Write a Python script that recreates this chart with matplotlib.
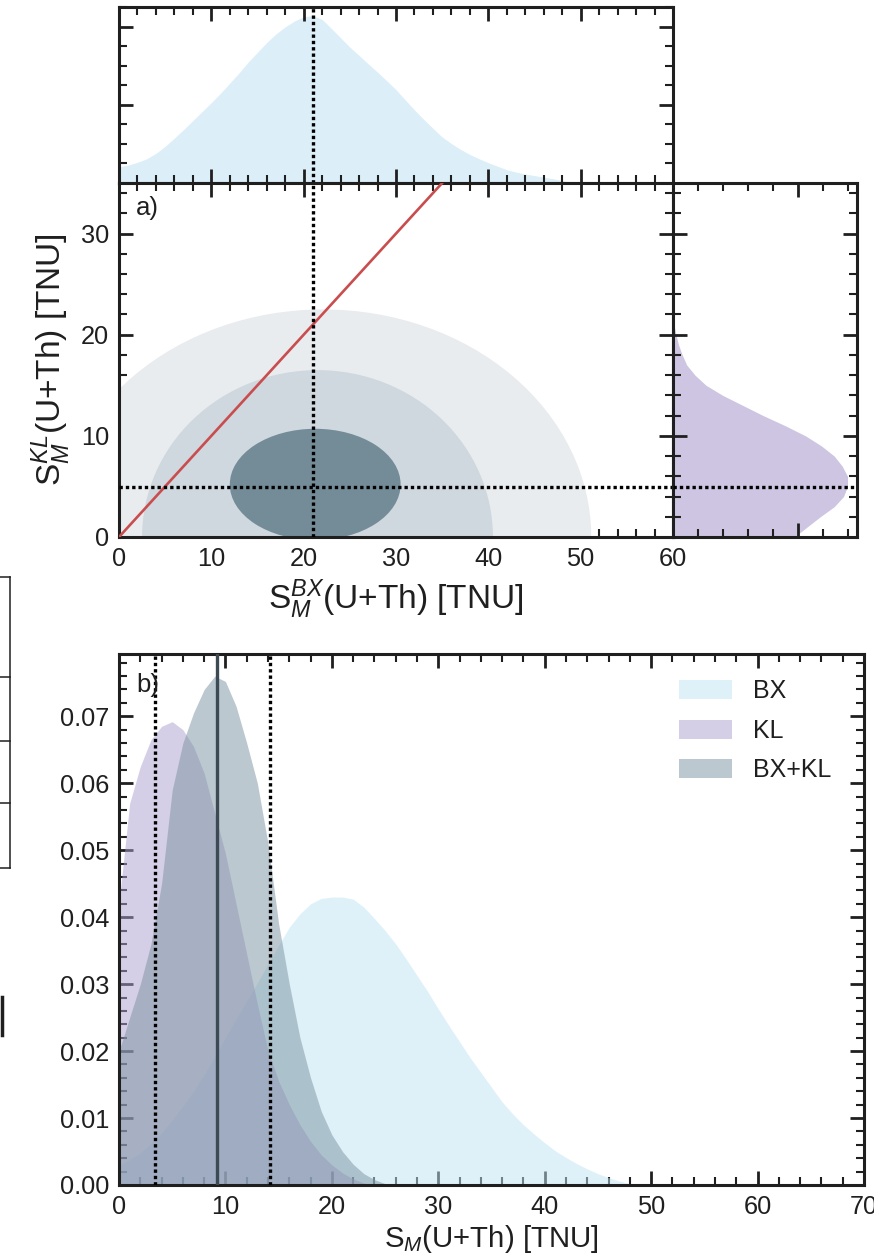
import numpy as np
import matplotlib
matplotlib.use("Agg")
import matplotlib.pyplot as plt
from matplotlib.lines import Line2D
from matplotlib.patches import Ellipse
from matplotlib.ticker import MultipleLocator, NullFormatter, FormatStrFormatter

plt.rcParams["font.family"] = ["Liberation Sans", "DejaVu Sans"]
plt.rcParams["mathtext.fontset"] = "custom"
plt.rcParams["mathtext.rm"] = "Liberation Sans"
plt.rcParams["mathtext.it"] = "Liberation Sans:italic"
plt.rcParams["mathtext.bf"] = "Liberation Sans:bold"

# ---------------------------------------------------------------- data
# Borexino posterior of S_M(U+Th) [TNU] (marginal of panel a)
bx_marg_x = np.arange(0, 51)
bx_marg_pdf = np.array([
    0.0041, 0.0046, 0.0053, 0.0062, 0.0076, 0.0094, 0.0115, 0.0137, 0.0160, 0.0183,
    0.0206, 0.0230, 0.0256, 0.0282, 0.0310, 0.0335, 0.0360, 0.0382, 0.0400, 0.0415,
    0.0426, 0.0429, 0.0419, 0.0396, 0.0372, 0.0348, 0.0327, 0.0305, 0.0284, 0.0262,
    0.0239, 0.0213, 0.0187, 0.0163, 0.0140, 0.0118, 0.0101, 0.0086, 0.0073, 0.0062,
    0.0052, 0.0043, 0.0034, 0.0028, 0.0023, 0.0019, 0.0015, 0.0011, 0.0006, 0.0002,
    0.0000])

# KamLAND posterior of S_M(U+Th) [TNU] (marginal of panel a)
kl_marg_y = np.arange(0, 23)
kl_marg_pdf = np.array([
    0.0486, 0.0537, 0.0589, 0.0645, 0.0682, 0.0698, 0.0698, 0.0677, 0.0645, 0.0594,
    0.0530, 0.0449, 0.0361, 0.0280, 0.0199, 0.0132, 0.0088, 0.0055, 0.0037, 0.0022,
    0.0012, 0.0004, 0.0000])

# joint credible regions (3, 2, 1 sigma): centre and full extent in TNU
region_cx = [22.1, 21.5, 21.25]
region_cy = [0.0, 0.0, 5.2]
region_wx = [58.1, 38.0, 18.5]
region_wy = [45.0, 33.0, 11.0]

bx_best = 21.0   # best BX value
kl_best = 4.9    # best KL value
equal_line = [0, 60]

# panel b: posteriors of S_M(U+Th)
b_bx_x = np.arange(0, 50)
b_bx_pdf = np.array([
    0.0030, 0.0038, 0.0048, 0.0062, 0.0078, 0.0097, 0.0118, 0.0140, 0.0165, 0.0192,
    0.0220, 0.0248, 0.0275, 0.0302, 0.0330, 0.0358, 0.0385, 0.0405, 0.0420, 0.0428,
    0.0430, 0.0430, 0.0427, 0.0415, 0.0398, 0.0380, 0.0360, 0.0337, 0.0313, 0.0289,
    0.0263, 0.0238, 0.0214, 0.0190, 0.0168, 0.0146, 0.0124, 0.0106, 0.0090, 0.0076,
    0.0063, 0.0051, 0.0041, 0.0032, 0.0024, 0.0017, 0.0011, 0.0006, 0.0002, 0.0000])

b_kl_x = np.arange(0, 25)
b_kl_pdf = np.array([
    0.0420, 0.0570, 0.0625, 0.0665, 0.0685, 0.0692, 0.0680, 0.0655, 0.0615, 0.0555,
    0.0495, 0.0420, 0.0345, 0.0270, 0.0200, 0.0155, 0.0120, 0.0090, 0.0065, 0.0045,
    0.0030, 0.0018, 0.0009, 0.0003, 0.0000])

b_comb_x = np.arange(0, 27)
b_comb_pdf = np.array([
    0.0200, 0.0250, 0.0300, 0.0360, 0.0450, 0.0590, 0.0660, 0.0705, 0.0740, 0.0760,
    0.0752, 0.0715, 0.0660, 0.0600, 0.0510, 0.0390, 0.0300, 0.0220, 0.0160, 0.0110,
    0.0075, 0.0050, 0.0031, 0.0017, 0.0008, 0.0002, 0.0000])

comb_best = 9.2
comb_interval = [3.4, 14.2]

series_labels = ["BX", "KL", "BX+KL"]

# ---------------------------------------------------------------- style
ink = "#1f1f1f"
W, H = 874, 1256
TICK_FS = 18.3


def box(l, t, r, b):
    return [l / W, 1 - b / H, (r - l) / W, (b - t) / H]


def style(ax, xmaj, xmin, ymaj, ymin):
    ax.xaxis.set_major_locator(MultipleLocator(xmaj))
    ax.xaxis.set_minor_locator(MultipleLocator(xmin))
    ax.yaxis.set_major_locator(MultipleLocator(ymaj))
    ax.yaxis.set_minor_locator(MultipleLocator(ymin))
    ax.tick_params(which="both", direction="in", top=True, right=True,
                   colors=ink, labelsize=TICK_FS, pad=7)
    ax.tick_params(which="major", length=10, width=2.0)
    ax.tick_params(which="minor", length=6, width=1.5)
    for s in ax.spines.values():
        s.set_linewidth(2.2)
        s.set_color(ink)


dot = (0, (1, 0.9))

fig = plt.figure(figsize=(W / 100, H / 100), dpi=100)

ax_top = fig.add_axes(box(119, 7, 673, 183))
ax_main = fig.add_axes(box(119, 183, 673, 537))
ax_right = fig.add_axes(box(673, 183, 857, 537))
ax_b = fig.add_axes(box(119, 654, 864, 1185))

# ---------------------------------------------------------------- panel a
ax_main.set_axisbelow(True)
region_colors = ["#e9ecef", "#cfd8de", "#748c98"]
for cx, cy, wx, wy, col in zip(region_cx, region_cy, region_wx, region_wy,
                               region_colors):
    ax_main.add_patch(Ellipse((cx, cy), wx, wy, facecolor=col,
                              edgecolor="none", zorder=1))
ax_main.plot(equal_line, equal_line, color="#c94d4f", lw=1.9, zorder=3)
ax_main.axvline(bx_best, color="black", lw=2.4, ls=dot, zorder=4)
ax_main.axhline(kl_best, color="black", lw=2.4, ls=dot, zorder=4)
ax_main.set_xlim(0, 60)
ax_main.set_ylim(0, 35)
style(ax_main, 10, 2, 10, 2)
ax_main.text(0.052, 0.93, "a)", transform=ax_main.transAxes, fontsize=18.5,
             color=ink, ha="center", va="center")
ax_main.set_xlabel(r"$\mathrm{S}_{M}^{BX}$(U+Th) [TNU]", fontsize=24,
                   color=ink, labelpad=5)
ax_main.set_ylabel(r"$\mathrm{S}_{M}^{KL}$(U+Th) [TNU]", fontsize=24,
                   color=ink, labelpad=6)

ax_top.fill_between(bx_marg_x, bx_marg_pdf, color="#dceef7", lw=0)
ax_top.axvline(bx_best, color="black", lw=2.4, ls=dot, zorder=4)
ax_top.set_xlim(0, 60)
ax_top.set_ylim(0, 0.0451)
style(ax_top, 10, 2, 0.02, 0.005)
ax_top.xaxis.set_major_formatter(NullFormatter())
ax_top.yaxis.set_major_formatter(NullFormatter())

ax_right.fill_betweenx(kl_marg_y, kl_marg_pdf, color="#cdc5e2", lw=0)
ax_right.axhline(kl_best, color="black", lw=2.4, ls=dot, zorder=4)
ax_right.set_ylim(0, 35)
ax_right.set_xlim(0, 0.0736)
style(ax_right, 0.05, 0.01, 10, 2)
ax_right.xaxis.set_major_formatter(NullFormatter())
ax_right.yaxis.set_major_formatter(NullFormatter())

# ---------------------------------------------------------------- panel b
ax_b.set_axisbelow(True)
h1 = ax_b.fill_between(b_bx_x, b_bx_pdf, color="#bfe3f3", alpha=0.5, lw=0,
                       label=series_labels[0], zorder=1)
h2 = ax_b.fill_between(b_kl_x, b_kl_pdf, color="#ad9fd0", alpha=0.5, lw=0,
                       label=series_labels[1], zorder=1)
h3 = ax_b.fill_between(b_comb_x, b_comb_pdf, color="#7a93a0", alpha=0.5, lw=0,
                       label=series_labels[2], zorder=1)
ax_b.axvline(comb_best, color="#3c4a53", lw=2.4, zorder=3)
for xv in comb_interval:
    ax_b.axvline(xv, color="black", lw=2.4, ls=dot, zorder=3)
ax_b.set_xlim(0, 70)
ax_b.set_ylim(0, 0.0793)
style(ax_b, 10, 2, 0.01, 0.002)
ax_b.yaxis.set_major_formatter(FormatStrFormatter("%.2f"))
ax_b.text(0.039, 0.942, "b)", transform=ax_b.transAxes, fontsize=18.5,
          color=ink, ha="center", va="center")
ax_b.set_xlabel(r"$\mathrm{S}_{M}$(U+Th) [TNU]", fontsize=21.2, color=ink,
                labelpad=3)
leg = ax_b.legend(handles=[h1, h2, h3], loc="upper left",
                  bbox_to_anchor=(0.752, 0.952), frameon=False, fontsize=18,
                  handlelength=2.1, handleheight=0.8, handletextpad=0.85,
                  labelspacing=0.62, borderpad=0, borderaxespad=0)
for t in leg.get_texts():
    t.set_color(ink)

# fragment of the neighbouring table border at the left margin
for yy in (577, 677, 741, 803, 868):
    fig.add_artist(Line2D([0, 10 / W], [1 - yy / H] * 2,
                          transform=fig.transFigure, color=ink, lw=1.1))
fig.add_artist(Line2D([10 / W] * 2, [1 - 577 / H, 1 - 868 / H],
                      transform=fig.transFigure, color=ink, lw=1.1))
fig.add_artist(Line2D([1.5 / W] * 2, [1 - 997 / H, 1 - 1035 / H],
                      transform=fig.transFigure, color=ink, lw=2.5))

fig.savefig("out.png", dpi=100)
